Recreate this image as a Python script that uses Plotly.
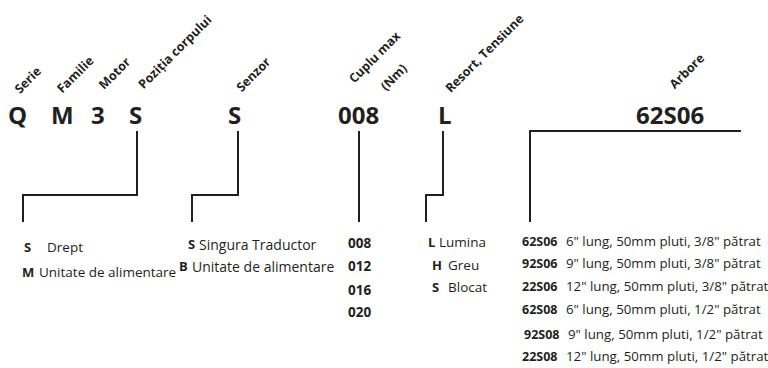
import plotly.graph_objects as go

# ---- data ----
codes = ["Q", "M", "3", "S", "S", "008", "L", "62S06"]
code_x = [17, 62, 98, 135, 234, 358, 445, 670]

headers = ["Serie", "Familie", "Motor", "Poziția corpului", "Senzor",
           "Cuplu max", "(Nm)", "Resort, Tensiune", "Arbore"]
header_x = [27, 75, 114, 174, 253, 374, 393, 484, 686]
header_y = [80, 74, 73, 52, 74, 57, 77, 53, 71]

# connector polylines (x list, y list)
connectors = [
    ([137, 137, 23, 23], [131, 195, 195, 222]),
    ([238, 238, 192, 192], [131, 195, 195, 222]),
    ([359, 359], [131, 222]),
    ([443, 443, 426, 426], [131, 195, 195, 222]),
    ([741, 530, 530], [131, 131, 222]),
]

pos_codes = ["S", "M"]
pos_desc = ["Drept", "Unitate de alimentare"]
sen_codes = ["S", "B"]
sen_desc = ["Singura Traductor", "Unitate de alimentare"]
torque = ["008", "012", "016", "020"]
spring_codes = ["L", "H", "S"]
spring_desc = ["Lumina", "Greu", "Blocat"]
shaft_codes = ["62S06", "92S06", "22S06", "62S08", "92S08", "22S08"]
shaft_desc = ['6" lung, 50mm pluti, 3/8" pătrat',
              '9" lung, 50mm pluti, 3/8" pătrat',
              '12" lung, 50mm pluti, 3/8" pătrat',
              '6" lung, 50mm pluti, 1/2" pătrat',
              '9" lung, 50mm pluti, 1/2" pătrat',
              '12" lung, 50mm pluti, 1/2" pătrat']

# ---- layout positions ----
INK = "#231f20"
FONT = "Open Sans"
fig = go.Figure()

for xs, ys in connectors:
    fig.add_trace(go.Scatter(x=xs, y=ys, mode="lines",
                             line=dict(color=INK, width=2),
                             hoverinfo="skip", showlegend=False))

ann = []
for c, x in zip(codes, code_x):
    ann.append(dict(x=x, y=114, text=c, font=dict(family=FONT, size=24, color=INK,
                                                   weight="bold")))
for h, x, y in zip(headers, header_x, header_y):
    ann.append(dict(x=x, y=y, text=h, textangle=-45,
                    font=dict(family=FONT, size=12.5, color=INK, weight="bold")))

def row(code, desc, cx, dx, y, csize, dsize):
    ann.append(dict(x=cx, y=y, text=code, xanchor="left",
                    font=dict(family=FONT, size=csize, color=INK, weight="bold")))
    if desc:
        ann.append(dict(x=dx, y=y, text=desc, xanchor="left",
                        font=dict(family=FONT, size=dsize, color=INK)))

pos_y = [247, 272]
pos_cx = [22, 20]
pos_dx = [45, 37]
for c, d, cx, dx, y in zip(pos_codes, pos_desc, pos_cx, pos_dx, pos_y):
    row(c, d, cx, dx, y, 13, 13.5)

sen_y = [244, 266]
sen_cx = [186, 177]
sen_dx = [197, 190]
for c, d, cx, dx, y in zip(sen_codes, sen_desc, sen_cx, sen_dx, sen_y):
    row(c, d, cx, dx, y, 13, 14)

torque_y = [243, 266, 290, 312]
for t, y in zip(torque, torque_y):
    ann.append(dict(x=359, y=y, text=t,
                    font=dict(family=FONT, size=13.5, color=INK, weight="bold")))

spring_y = [242, 265, 287]
spring_cx = [426, 430, 430]
spring_dx = [437, 446, 446]
for c, d, cx, dx, y in zip(spring_codes, spring_desc, spring_cx, spring_dx, spring_y):
    row(c, d, cx, dx, y, 13, 13.5)

shaft_y = [241, 263, 286, 309, 334, 356]
shaft_cx = [520, 520, 520, 520, 522, 520]
shaft_dx = [564, 564, 564, 564, 566, 564]
for c, d, cx, dx, y in zip(shaft_codes, shaft_desc, shaft_cx, shaft_dx, shaft_y):
    row(c, d, cx, dx, y, 12.5, 13.3)

for a in ann:
    a.update(xref="x", yref="y", showarrow=False)
    a.setdefault("xanchor", "center")
    a.setdefault("yanchor", "middle")

fig.update_layout(
    width=768, height=368,
    margin=dict(l=0, r=0, t=0, b=0),
    paper_bgcolor="white", plot_bgcolor="white",
    xaxis=dict(range=[0, 768], visible=False, fixedrange=True),
    yaxis=dict(range=[368, 0], visible=False, fixedrange=True),
    annotations=ann,
    showlegend=False,
)
fig.write_html("out.html", config={"displayModeBar": False},
               post_script="document.body.style.margin='0';document.body.style.overflow='hidden';")
